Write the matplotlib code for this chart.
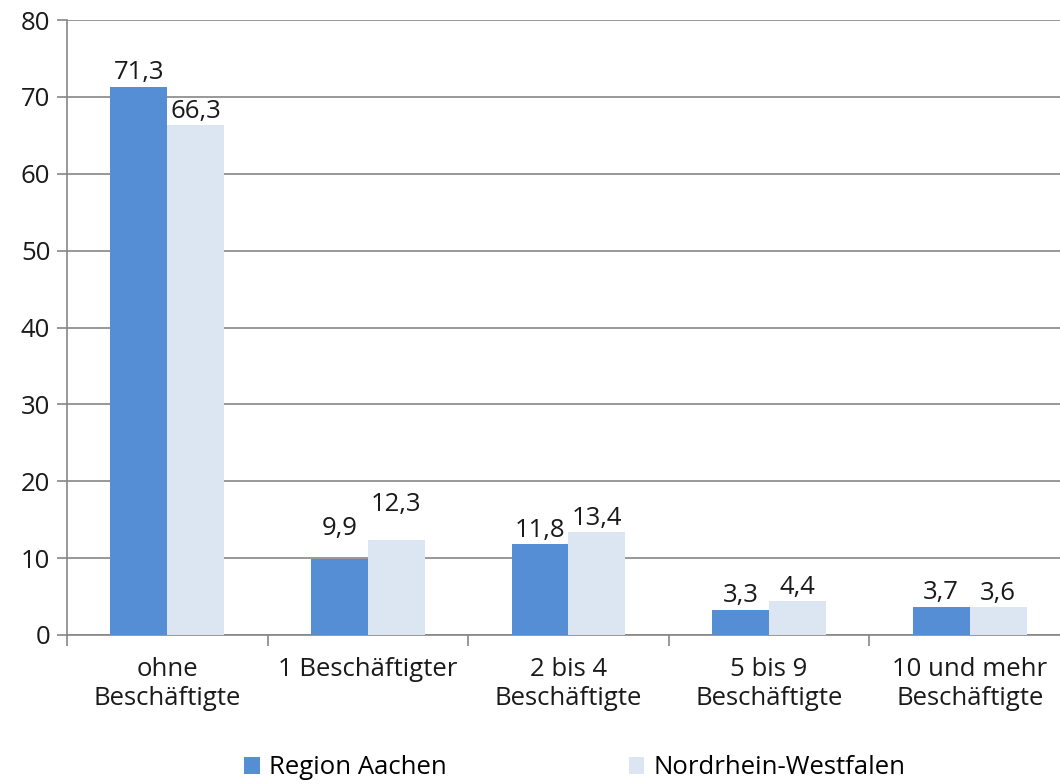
import matplotlib.pyplot as plt
import numpy as np

# Daten
kategorien = ["ohne\nBeschäftigte", "1 Beschäftigter", "2 bis 4\nBeschäftigte",
              "5 bis 9\nBeschäftigte", "10 und mehr\nBeschäftigte"]
region_aachen = [71.3, 9.9, 11.8, 3.3, 3.7]
nrw = [66.3, 12.3, 13.4, 4.4, 3.6]
serien = ["Region Aachen", "Nordrhein-Westfalen"]

BLAU = "#558ed5"
HELL = "#dce6f2"
GRAU = "#868686"
FS = 18.5

# zusaetzlicher Abstand der Beschriftungen (Punkte), wie im Original verschoben
hebung_aachen = [0, 12, 0, 0, 0]
hebung_nrw = [0, 16, 0, 0, 0]

plt.rcParams['font.family'] = ['Open Sans', 'DejaVu Sans']

fig = plt.figure(figsize=(10.6, 7.84), dpi=100)
ax = fig.add_axes([67 / 1060, 149 / 784, 1003 / 1060, 615 / 784])

x = np.arange(len(kategorien))
breite = 0.284
b1 = ax.bar(x - breite / 2, region_aachen, breite, color=BLAU, label=serien[0], zorder=3)
b2 = ax.bar(x + breite / 2, nrw, breite, color=HELL, label=serien[1], zorder=3)

for balken, werte, hebung in ((b1, region_aachen, hebung_aachen), (b2, nrw, hebung_nrw)):
    for r, v, h in zip(balken, werte, hebung):
        ax.annotate(f"{v:.1f}".replace(".", ","),
                    (r.get_x() + r.get_width() / 2, r.get_height()),
                    xytext=(0, 1 + h), textcoords="offset points",
                    ha="center", va="bottom", fontsize=FS, color="#1a1a1a")

ax.set_xlim(-0.5, len(kategorien) - 0.5)
ax.set_ylim(0, 80)
ax.set_yticks(range(0, 81, 10))
ax.yaxis.grid(True, color=GRAU, linewidth=1.2, zorder=0)
ax.set_axisbelow(True)

ax.set_xticks(x)
ax.set_xticklabels(kategorien, fontsize=FS, color="#1a1a1a", linespacing=1.2)
ax.set_xticks(np.arange(len(kategorien) + 1) - 0.5, minor=True)
ax.tick_params(axis="x", which="major", length=0, pad=16)
ax.tick_params(axis="x", which="minor", length=8, width=1.2, color=GRAU)
ax.tick_params(axis="y", length=7, width=1.2, color=GRAU, labelsize=FS,
               labelcolor="#1a1a1a", pad=5)

for s in ["top", "right"]:
    ax.spines[s].set_visible(False)
for s in ["left", "bottom"]:
    ax.spines[s].set_color(GRAU)
    ax.spines[s].set_linewidth(1.2)

fig.legend(handles=[b1, b2], labels=serien, loc="center",
           bbox_to_anchor=(0.5424, 1 - 768 / 784), ncol=2, frameon=False,
           fontsize=FS, handlelength=0.6, handleheight=0.6, handletextpad=0.35,
           columnspacing=7.1)

fig.savefig("out.png", dpi=100)
